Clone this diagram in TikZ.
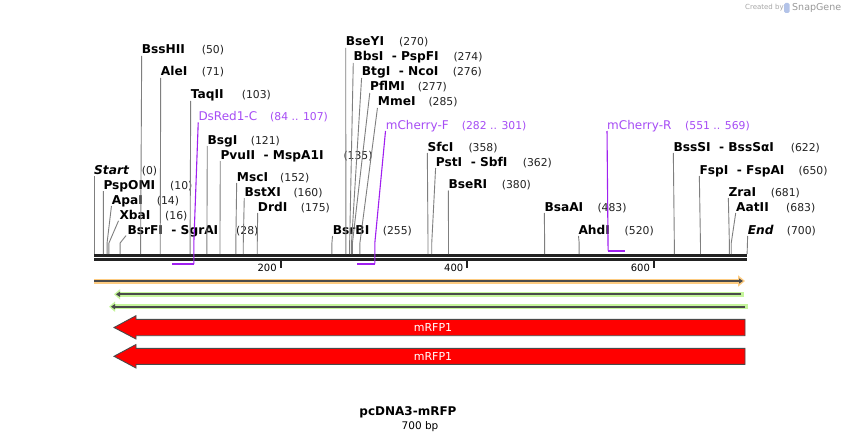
\documentclass[tikz,border=0pt]{standalone}
\usepackage{fontspec}
\setmainfont{DejaVu Sans}
\usetikzlibrary{arrows.meta, positioning}

\definecolor{primerline}{HTML}{A020F0}
\definecolor{primertxt}{HTML}{A64CF5}
\definecolor{cutgray}{HTML}{7F7F7F}
\definecolor{bbblack}{HTML}{222222}
\definecolor{featorange}{HTML}{FDCB80}
\definecolor{featgreen}{HTML}{C5F59B}
\definecolor{featdark}{HTML}{4A4A4A}
\definecolor{rfpred}{HTML}{FF0000}

\begin{document}
\begin{tikzpicture}[
    x=1pt, y=-1pt,
    enz/.style={anchor=base west, inner sep=0pt, font=\fontsize{12.2}{14}\selectfont\bfseries},
    num/.style={anchor=base west, inner sep=0pt, text=bbblack, font=\fontsize{10.8}{13}\selectfont},
    primertext/.style={anchor=base west, inner sep=0pt, text=primertxt, font=\fontsize{12}{14}\selectfont},
    primernum/.style={anchor=base west, inner sep=0pt, text=primertxt, font=\fontsize{10.8}{13}\selectfont},
    cutline/.style={draw=cutgray, line width=0.9pt, shorten <=2pt},
    primerlink/.style={draw=primerline, line width=1.1pt, shorten <=2pt},
    primerbar/.style={draw=primerline, line width=2pt},
    backbone/.style={draw=bbblack, line width=3pt},
    tick/.style={draw=bbblack, line width=1.8pt},
    ticknum/.style={anchor=base east, inner sep=0pt, font=\fontsize{10}{12}\selectfont},
    featband/.style={line width=5pt},
    featcore/.style={draw=featdark, line width=1.8pt},
    blockarrow/.style={fill=rfpred, draw=featdark, line width=0.9pt},
    blocklabel/.style={text=white, inner sep=0pt, font=\fontsize{11}{13}\selectfont}
]
\fill[white] (0,0) rectangle (842,441);
\useasboundingbox (0,0) rectangle (842,441);

% 1. Sites on the backbone (bp scale)
\coordinate (knee) at (0,243);
\begin{scope}[xshift=94pt, x=0.933pt]
\foreach \bp in {0,10,14,16,28,50,71,103,121,135,152,160,175,255,270,274,276,277,285,358,362,380,483,520,622,650,681,683,700}
    \coordinate (s\bp) at (\bp,254);
\coordinate (p84) at (84,264);
\coordinate (p107) at (107,264);
\coordinate (p282) at (282,263.5);
\coordinate (p301) at (301,263.5);
\coordinate (p551) at (551,250.7);
\coordinate (p569) at (569,250.7);

% 2. Backbone and ruler
\draw[backbone] (0,255.5) -- (700,255.5);
\draw[backbone] (0,259.8) -- (700,259.8);
\draw[tick] (200,261) -- (200,268) node[ticknum, xshift=-3pt] (t200) at (200,271) {200};
\draw[tick] (400,261) -- (400,268) node[ticknum, xshift=-3pt] (t400) at (400,271) {400};
\draw[tick] (600,261) -- (600,268) node[ticknum, xshift=-3pt] (t600) at (600,271) {600};
\end{scope}

% 3. Enzyme labels
\node[enz] (startsite) at (94,174) {\itshape Start};
\node[num] (startsite-n) at (141.7,174) {(0)};
\node[enz] (pspomi) at (103.3,189) {PspOMI};
\node[num] (pspomi-n) at (170,189) {(10)};
\node[enz] (apai) at (111.7,204) {ApaI};
\node[num] (apai-n) at (156.7,204) {(14)};
\node[enz] (xbai) at (119.3,219) {XbaI};
\node[num] (xbai-n) at (165,219) {(16)};
\node[enz] (bsrfi) at (127.3,234) {BsrFI~~- SgrAI};
\node[num] (bsrfi-n) at (236,234) {(28)};
\node[enz] (bsshii) at (141.7,54) {BssHII};
\node[num] (bsshii-n) at (201.7,54) {(50)};
\node[enz] (alei) at (160.7,76) {AleI};
\node[num] (alei-n) at (201.7,76) {(71)};
\node[enz] (taqii) at (190.7,99) {TaqII};
\node[num] (taqii-n) at (241.7,99) {(103)};
\node[enz] (bsgi) at (207.3,144) {BsgI};
\node[num] (bsgi-n) at (250.7,144) {(121)};
\node[enz] (pvuii) at (220.3,159) {PvuII~~- MspA1I};
\node[num] (pvuii-n) at (343.3,159) {(135)};
\node[enz] (msci) at (236.7,181) {MscI};
\node[num] (msci-n) at (280,181) {(152)};
\node[enz] (bstxi) at (244.3,196) {BstXI};
\node[num] (bstxi-n) at (293.3,196) {(160)};
\node[enz] (drdi) at (257.7,211) {DrdI};
\node[num] (drdi-n) at (300.7,211) {(175)};
\node[enz] (bsrbi) at (332.7,234) {BsrBI};
\node[num] (bsrbi-n) at (382.7,234) {(255)};
\node[enz] (bseyi) at (345.7,46) {BseYI};
\node[num] (bseyi-n) at (399,46) {(270)};
\node[enz] (bbsi) at (353.3,61) {BbsI~~- PspFI};
\node[num] (bbsi-n) at (453.3,61) {(274)};
\node[enz] (btgi) at (361.7,76) {BtgI~~- NcoI};
\node[num] (btgi-n) at (452.7,76) {(276)};
\node[enz] (pflmi) at (370,91) {PflMI};
\node[num] (pflmi-n) at (417.7,91) {(277)};
\node[enz] (mmei) at (377.7,106) {MmeI};
\node[num] (mmei-n) at (428.3,106) {(285)};
\node[enz] (sfci) at (427.3,151) {SfcI};
\node[num] (sfci-n) at (468.3,151) {(358)};
\node[enz] (psti) at (435.7,166) {PstI~~- SbfI};
\node[num] (psti-n) at (522.7,166) {(362)};
\node[enz] (bseri) at (448.3,188.5) {BseRI};
\node[num] (bseri-n) at (501.7,188.5) {(380)};
\node[enz] (bsaai) at (544.3,211) {BsaAI};
\node[num] (bsaai-n) at (597.3,211) {(483)};
\node[enz] (ahdi) at (578.3,234) {AhdI};
\node[num] (ahdi-n) at (624.5,234) {(520)};
\node[enz] (bsssi) at (673.3,151) {BssSI~~- BssSαI};
\node[num] (bsssi-n) at (790.7,151) {(622)};
\node[enz] (fspi) at (699.3,174) {FspI~~- FspAI};
\node[num] (fspi-n) at (798.3,174) {(650)};
\node[enz] (zrai) at (728.3,196) {ZraI};
\node[num] (zrai-n) at (770.7,196) {(681)};
\node[enz] (aatii) at (736,211) {AatII};
\node[num] (aatii-n) at (786,211) {(683)};
\node[enz] (endsite) at (747.7,234) {\itshape End};
\node[num] (endsite-n) at (786.7,234) {(700)};

% 4. Primer labels
\node[primertext] (dsred) at (198.3,120.5) {DsRed1-C};
\node[primernum] (dsred-n) at (270,120.5) {(84 .. 107)};
\node[primertext] (mchf) at (385.7,129) {mCherry-F};
\node[primernum] (mchf-n) at (461.7,129) {(282 .. 301)};
\node[primertext] (mchr) at (607,129) {mCherry-R};
\node[primernum] (mchr-n) at (685,129) {(551 .. 569)};

% 5. Cut site lines
\draw[cutline] (startsite.base west) -- (s0);
\draw[cutline] (pspomi.base west) -- (s10 |- knee) -- (s10);
\draw[cutline] (apai.base west) -- (s14 |- knee) -- (s14);
\draw[cutline] (xbai.base west) -- (s16 |- knee) -- (s16);
\draw[cutline] (bsrfi.base west) -- (s28 |- knee) -- (s28);
\draw[cutline] (bsshii.base west) -- (s50 |- knee) -- (s50);
\draw[cutline] (alei.base west) -- (s71 |- knee) -- (s71);
\draw[cutline] (taqii.base west) -- (s103 |- knee) -- (s103);
\draw[cutline] (bsgi.base west) -- (s121 |- knee) -- (s121);
\draw[cutline] (pvuii.base west) -- (s135 |- knee) -- (s135);
\draw[cutline] (msci.base west) -- (s152 |- knee) -- (s152);
\draw[cutline] (bstxi.base west) -- (s160 |- knee) -- (s160);
\draw[cutline] (drdi.base west) -- (s175 |- knee) -- (s175);
\draw[cutline] (bsrbi.base west) -- (s255 |- knee) -- (s255);
\draw[cutline] (bseyi.base west) -- (s270 |- knee) -- (s270);
\draw[cutline] (bbsi.base west) -- (s274 |- knee) -- (s274);
\draw[cutline] (btgi.base west) -- (s276 |- knee) -- (s276);
\draw[cutline] (pflmi.base west) -- (s277 |- knee) -- (s277);
\draw[cutline] (mmei.base west) -- (s285 |- knee) -- (s285);
\draw[cutline] (sfci.base west) -- (s358 |- knee) -- (s358);
\draw[cutline] (psti.base west) -- (s362 |- knee) -- (s362);
\draw[cutline] (bseri.base west) -- (s380 |- knee) -- (s380);
\draw[cutline] (bsaai.base west) -- (s483 |- knee) -- (s483);
\draw[cutline] (ahdi.base west) -- (s520 |- knee) -- (s520);
\draw[cutline] (bsssi.base west) -- (s622 |- knee) -- (s622);
\draw[cutline] (fspi.base west) -- (s650 |- knee) -- (s650);
\draw[cutline] (zrai.base west) -- (s681 |- knee) -- (s681);
\draw[cutline] (aatii.base west) -- (s683 |- knee) -- (s683);
\draw[cutline] (endsite.base west) -- (s700);

% 6. Primers
\draw[primerbar] (p84) -- (p107);
\draw[primerlink] (dsred.base west) -- (p107 |- knee) -- (p107);
\draw[primerbar] (p282) -- (p301);
\draw[primerlink] (mchf.base west) -- (p301 |- knee) -- (p301);
\draw[primerbar] (p551) -- (p569);
\draw[primerlink] (mchr.base west) -- (p551);

% 7. Features
\draw[featband, draw=featorange, -{Triangle[length=7pt, width=11pt]}] (94,281) -- (745,281);
\draw[featcore, -{Triangle[length=4pt, width=5pt]}] (94,281) -- (743,281);
\draw[featband, draw=featgreen, -{Triangle[length=6pt, width=10pt]}] (744,294.3) -- (114,294.3);
\draw[featcore, -{Triangle[length=4pt, width=5pt]}] (741,294.3) -- (116,294.3);
\draw[featband, draw=featgreen, -{Triangle[length=6pt, width=10pt]}] (748,306.7) -- (109,306.7);
\draw[featcore, -{Triangle[length=4pt, width=5pt]}] (745,306.7) -- (111,306.7);

\draw[blockarrow] (745,319.3) -- (136,319.3) -- (136,315.7) -- (114,327.5) -- (136,339) -- (136,335.7) -- (745,335.7) -- cycle;
\node[blocklabel] (rfp-a) at (433,327.5) {mRFP1};
\draw[blockarrow] (745,348.3) -- (136,348.3) -- (136,344.5) -- (114,356.3) -- (136,368) -- (136,364.3) -- (745,364.3) -- cycle;
\node[blocklabel] (rfp-b) at (433,356.3) {mRFP1};

% 8. Map name
\node[anchor=base, inner sep=0pt, font=\fontsize{12}{14}\selectfont\bfseries] (mapname) at (408,415) {pcDNA3-mRFP};
\node[anchor=base, inner sep=0pt, font=\fontsize{10.5}{12}\selectfont] (maplen) at (420,429) {700 bp};

% 9. Credit
\node[anchor=base west, inner sep=0pt, text=black!35, font=\fontsize{7}{8}\selectfont] (created) at (745,10) {Created by};
\fill[cyan!45!blue!30, rounded corners=1.5pt] (784,3) rectangle (789.5,13);
\node[anchor=base west, inner sep=0pt, text=black!40, font=\fontsize{9.5}{11}\selectfont] (snapgene) at (792,11) {SnapGene};
\end{tikzpicture}
\end{document}
